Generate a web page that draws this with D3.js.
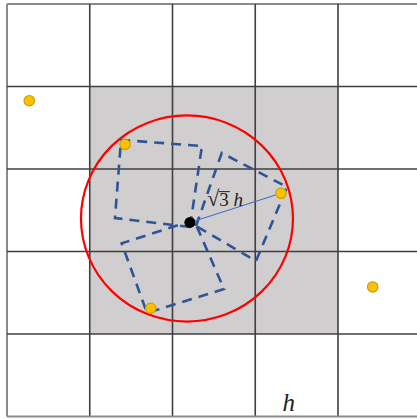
<!DOCTYPE html>
<html><head><meta charset="utf-8">
<script src="https://cdn.jsdelivr.net/npm/d3@7"></script>
<style>html,body{margin:0;padding:0;background:#fff;}svg{display:block;}</style>
</head><body>
<svg id="c" width="417" height="419"></svg>
<script>
// grid in units of h
const gridTicks = [0, 1, 2, 3, 4, 5];
const shadedRange = [1, 4];
const samplePoints = [[0.269, 1.172], [1.426, 1.701], [3.311, 2.295], [1.737, 3.688], [4.419, 3.430]];
const centerPoint = [2.211, 2.648];
const circleCenter = [2.175, 2.600];
const circleRadius = 1.281;
const squares = [
  [[2.211, 2.703], [1.305, 2.594], [1.378, 1.648], [2.356, 1.721]],
  [[2.284, 2.691], [2.595, 1.806], [3.384, 2.218], [3.009, 3.115]],
  [[2.260, 2.618], [1.386, 2.901], [1.692, 3.745], [2.622, 3.455]]
];
const radiusTarget = 2; // index of sample point joined to the centre
const labelRadius = "√3 h";
const labelCell = "h";
const labelRadiusPos = [2.42, 2.45];
const labelCellPos = [3.33, 4.93];

const svg = d3.select("#c");
const x = d3.scaleLinear().domain([0, 5]).range([7, 420.75]);
const y = d3.scaleLinear().domain([0, 5]).range([4, 416.5]);

// shaded 3x3 block
svg.append("rect")
  .attr("x", x(shadedRange[0])).attr("y", y(shadedRange[0]))
  .attr("width", x(shadedRange[1]) - x(shadedRange[0]))
  .attr("height", y(shadedRange[1]) - y(shadedRange[0]))
  .attr("fill", "#d0cece");

// grid lines
const g = svg.append("g");
gridTicks.forEach(t => {
  const outer = (t === 0 || t === 5);
  g.append("line").attr("x1", x(t)).attr("x2", x(t)).attr("y1", y(0)).attr("y2", y(5))
    .attr("stroke", outer ? "#8a8a8a" : "#3f3f3f").attr("stroke-width", outer ? 2 : 1.6);
  g.append("line").attr("y1", y(t)).attr("y2", y(t)).attr("x1", x(0)).attr("x2", x(5))
    .attr("stroke", outer ? "#8a8a8a" : "#3f3f3f").attr("stroke-width", outer ? 2 : 1.6);
});

// red circle
svg.append("ellipse")
  .attr("cx", x(circleCenter[0])).attr("cy", y(circleCenter[1]))
  .attr("rx", x(circleRadius) - x(0)).attr("ry", y(circleRadius * 0.975) - y(0))
  .attr("fill", "none").attr("stroke", "#ff0000").attr("stroke-width", 2.2);

// dashed squares
const line = d3.line().x(d => x(d[0])).y(d => y(d[1])).curve(d3.curveLinearClosed);
svg.append("g").selectAll("path").data(squares).join("path")
  .attr("d", line).attr("fill", "none")
  .attr("stroke", "#2f5597").attr("stroke-width", 2.6)
  .attr("stroke-dasharray", "10,7");

// radius line
svg.append("line")
  .attr("x1", x(centerPoint[0])).attr("y1", y(centerPoint[1]))
  .attr("x2", x(samplePoints[radiusTarget][0])).attr("y2", y(samplePoints[radiusTarget][1]))
  .attr("stroke", "#4472c4").attr("stroke-width", 1.1);

// sample points
svg.append("g").selectAll("circle").data(samplePoints).join("circle")
  .attr("cx", d => x(d[0])).attr("cy", d => y(d[1]))
  .attr("r", 5.2).attr("fill", "#ffc000").attr("stroke", "#c9a000").attr("stroke-width", 1.2);

// centre point
svg.append("circle").attr("cx", x(centerPoint[0])).attr("cy", y(centerPoint[1]))
  .attr("r", 5.5).attr("fill", "#000");

// label sqrt3 h
const lt = svg.append("text")
  .attr("x", x(labelRadiusPos[0])).attr("y", y(labelRadiusPos[1]))
  .attr("font-family", "'Liberation Serif','DejaVu Serif',serif")
  .attr("font-size", 19).attr("fill", "#222");
const parts = labelRadius.split(" ");
lt.append("tspan").attr("font-size", 22).text(parts[0].slice(0, 1));
const t3 = lt.append("tspan").text(parts[0].slice(1));
lt.append("tspan").text(" ");
lt.append("tspan").attr("font-style", "italic").text(parts[1]);
// overline over radicand
const bb = t3.node().getBBox();
svg.append("line").attr("x1", bb.x - 0.5).attr("x2", bb.x + bb.width + 1)
  .attr("y1", bb.y + 2.5).attr("y2", bb.y + 2.5).attr("stroke", "#222").attr("stroke-width", 1);

// label h
svg.append("text")
  .attr("x", x(labelCellPos[0])).attr("y", y(labelCellPos[1]))
  .attr("font-family", "'Liberation Serif','DejaVu Serif',serif")
  .attr("font-style", "italic").attr("font-size", 25).attr("fill", "#222")
  .text(labelCell);
</script>
</body></html>
